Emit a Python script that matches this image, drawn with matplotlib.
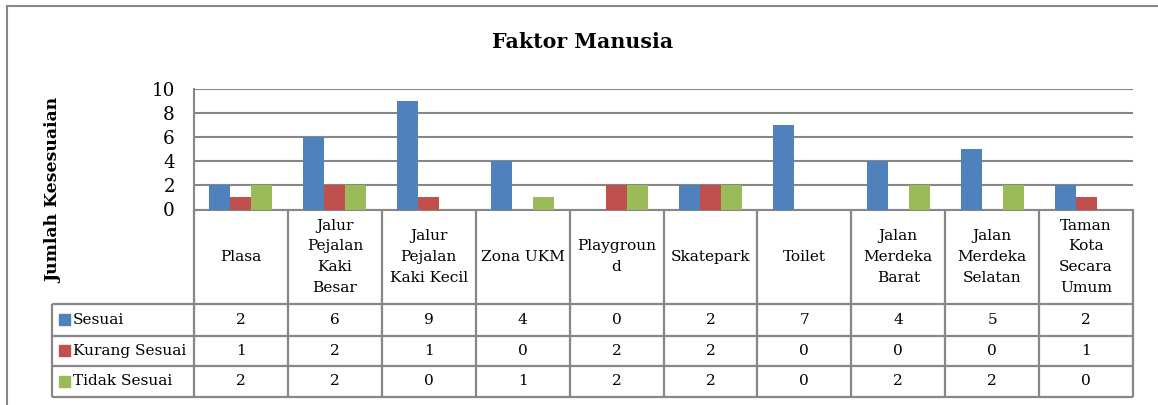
import numpy as np
import matplotlib.pyplot as plt
from matplotlib.patches import Rectangle

# data
categories = ["Plasa", "Jalur\nPejalan\nKaki\nBesar", "Jalur\nPejalan\nKaki Kecil",
              "Zona UKM", "Playgroun\nd", "Skatepark", "Toilet",
              "Jalan\nMerdeka\nBarat", "Jalan\nMerdeka\nSelatan",
              "Taman\nKota\nSecara\nUmum"]
series_names = ["Sesuai", "Kurang Sesuai", "Tidak Sesuai"]
sesuai = [2, 6, 9, 4, 0, 2, 7, 4, 5, 2]
kurang_sesuai = [1, 2, 1, 0, 2, 2, 0, 0, 0, 1]
tidak_sesuai = [2, 2, 0, 1, 2, 2, 0, 2, 2, 0]
series = [sesuai, kurang_sesuai, tidak_sesuai]
colors = ["#4F81BD", "#C0504D", "#9BBB59"]

W, H = 1158, 405
gray = "#878787"
font = "DejaVu Serif"
plt.rcParams['font.family'] = font
tfs = 11.1

fig = plt.figure(figsize=(W / 100, H / 100), dpi=100)

# outer chart frame
fig.add_artist(plt.Line2D([7 / W, 7 / W], [0, 1 - 5.5 / H], color=gray, lw=1.5))
fig.add_artist(plt.Line2D([7 / W, 1], [1 - 5.5 / H, 1 - 5.5 / H], color=gray, lw=1.5))

# plot area in pixels
x0, x1 = 194, 1133
y_top, y_bot = 89, 209.5
ax = fig.add_axes([x0 / W, 1 - y_bot / H, (x1 - x0) / W, (y_bot - y_top) / H])

n = len(categories)
x = np.arange(n) + 0.5
bw = 0.2234
for i, (vals, c) in enumerate(zip(series, colors)):
    ax.bar(x + (i - 1) * bw, vals, width=bw, color=c, zorder=3)

ax.set_xlim(0, n)
ax.set_ylim(0, 10)
ax.set_yticks(range(0, 11, 2))
ax.set_xticks([])
ax.tick_params(axis='y', length=0, pad=13.8, labelsize=13.2)
ax.yaxis.grid(True, color=gray, lw=1.5, zorder=0)
for s in ["top", "right"]:
    ax.spines[s].set_visible(False)
for s in ["left", "bottom"]:
    ax.spines[s].set_color(gray)
    ax.spines[s].set_linewidth(1.5)

# data table below the plot
t_left, t_bot = 52, 396.5
cw = (x1 - x0) / n
tax = fig.add_axes([t_left / W, 1 - t_bot / H, (x1 - t_left) / W, (t_bot - y_bot) / H])
xl = -(x0 - t_left) / cw
tax.set_xlim(xl, n)
tax.set_ylim(0, t_bot - y_bot)
tax.axis("off")

row_edges = [t_bot - 304.3, t_bot - 335.5, t_bot - 366, 0]
top = t_bot - y_bot
lk = dict(color=gray, lw=1.6, clip_on=False, solid_capstyle="butt")

# header row verticals
for j in range(n + 1):
    tax.plot([j, j], [0, top], **lk)
for yy in row_edges:
    tax.plot([xl, n], [yy, yy], **lk)
tax.plot([xl, xl], [0, row_edges[0]], **lk)

for j, cat in enumerate(categories):
    tax.text(j + 0.5, (top + row_edges[0]) / 2, cat, ha="center", va="center",
             fontsize=tfs, linespacing=1.62)

for r, (name, vals, c) in enumerate(zip(series_names, series, colors)):
    yc = (row_edges[r] + row_edges[r + 1]) / 2
    sq = 11 / cw
    tax.add_patch(Rectangle((xl + 7 / cw, yc - 5.5), sq, 11, color=c, clip_on=False))
    tax.text(xl + 21 / cw, yc, name, ha="left", va="center", fontsize=tfs)
    for j, v in enumerate(vals):
        tax.text(j + 0.5, yc, str(v), ha="center", va="center", fontsize=tfs)

fig.text(583 / W, 1 - 42 / H, "Faktor Manusia", ha="center", va="center",
         fontsize=14.8, fontweight="bold")
fig.text(54 / W, 1 - 190 / H, "Jumlah Kesesuaian", ha="center", va="center",
         rotation=90, fontsize=12.4, fontweight="bold")

fig.savefig("out.png", dpi=100)
